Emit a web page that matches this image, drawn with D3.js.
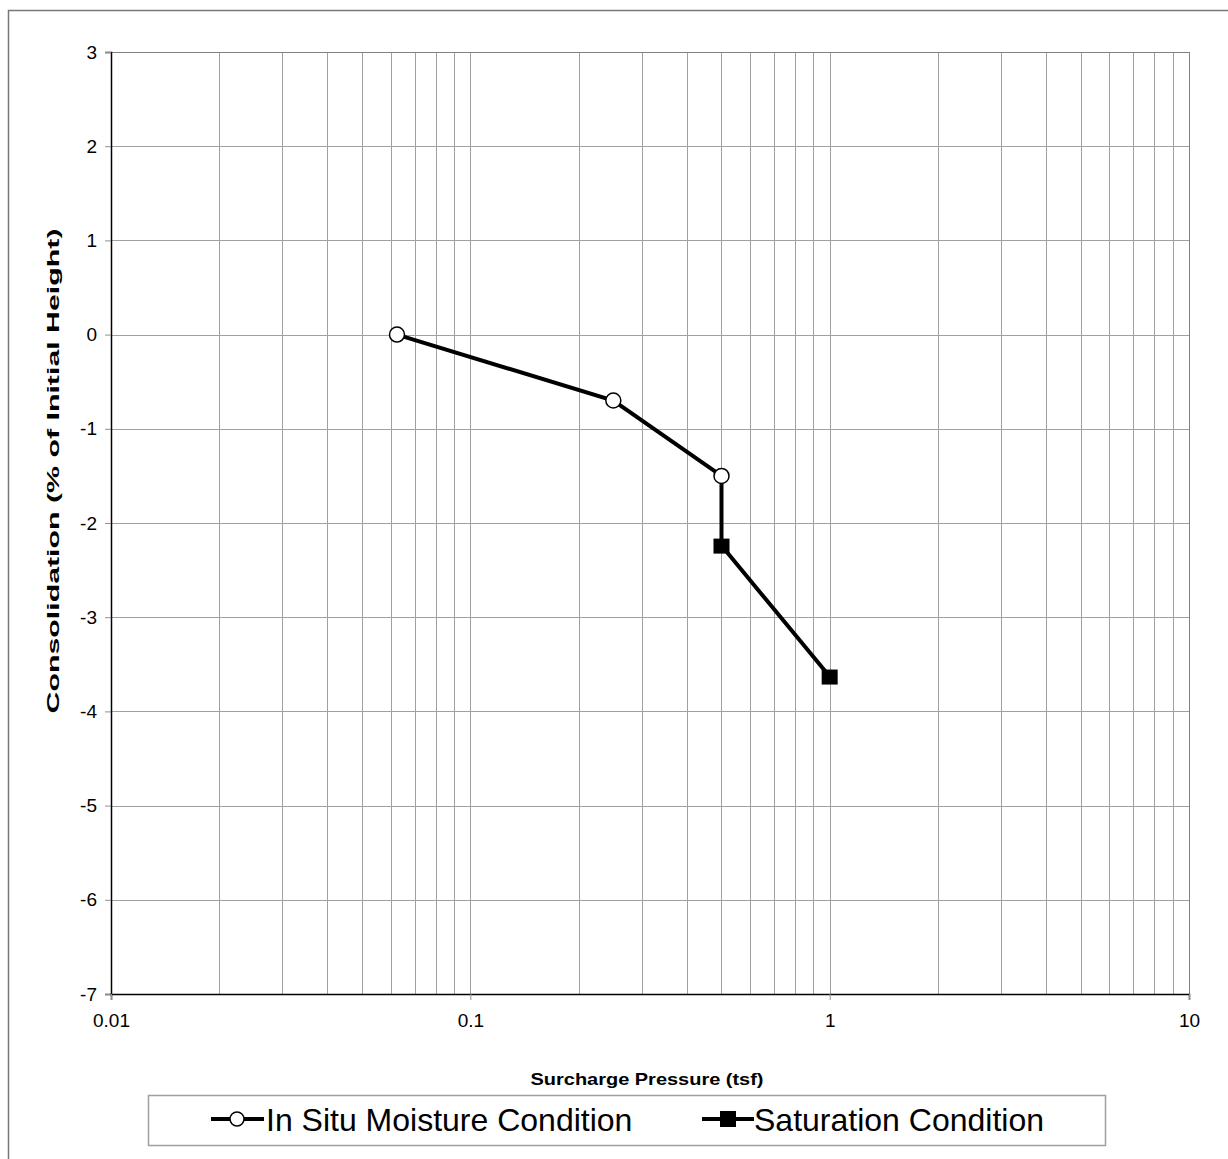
<!DOCTYPE html>
<html>
<head>
<meta charset="utf-8">
<script src="https://cdn.jsdelivr.net/npm/d3@7"></script>
<style>
  body { margin: 0; background: #fff; }
  text { font-family: "Liberation Sans", Arial, sans-serif; }
</style>
</head>
<body>
<div id="chart"></div>
<script>
// data
const inSituPressure = [0.0625, 0.25, 0.5];
const inSituConsol = [0, -0.7, -1.5];
const satPressure = [0.5, 1];
const satConsol = [-2.24, -3.63];
const yTicks = [3, 2, 1, 0, -1, -2, -3, -4, -5, -6, -7];
const xMajor = [0.01, 0.1, 1, 10];

const W = 1228, H = 1159;
const margin = { top: 52, right: 39, bottom: 165, left: 111 };
const w = W - margin.left - margin.right;
const h = H - margin.top - margin.bottom;
const FONT = '"Liberation Sans", Arial, sans-serif';

const svg = d3.select('#chart').append('svg')
  .attr('width', W).attr('height', H);

// outer chart border
svg.append('rect')
  .attr('x', 8.5).attr('y', 10.5)
  .attr('width', W).attr('height', H)
  .attr('fill', 'none').attr('stroke', '#777').attr('stroke-width', 1.5);

const x = d3.scaleLog().domain([0.01, 10]).range([0, w]);
const y = d3.scaleLinear().domain([-7, 3]).range([h, 0]);

const g = svg.append('g')
  .attr('transform', `translate(${margin.left},${margin.top})`);

// minor + major vertical grid
const xGrid = [];
for (let d = 0.01; d < 10; d *= 10) {
  for (let k = 1; k <= 10; k++) xGrid.push(+(d * k).toPrecision(3));
}
g.selectAll('.vgrid').data(xGrid).enter().append('line')
  .attr('class', 'vgrid')
  .attr('x1', d => Math.round(x(d)) + 0.5).attr('x2', d => Math.round(x(d)) + 0.5)
  .attr('y1', 0).attr('y2', h)
  .attr('stroke', '#a0a0a0').attr('stroke-width', 1);

g.selectAll('.hgrid').data(yTicks).enter().append('line')
  .attr('class', 'hgrid')
  .attr('x1', 0).attr('x2', w)
  .attr('y1', d => Math.round(y(d)) + 0.5).attr('y2', d => Math.round(y(d)) + 0.5)
  .attr('stroke', '#a0a0a0').attr('stroke-width', 1);

// plot frame: gray top/right
g.append('rect')
  .attr('x', 0.5).attr('y', 0.5).attr('width', w).attr('height', h)
  .attr('fill', 'none').attr('stroke', '#808080');

// axes
const yAxis = d3.axisLeft(y).tickValues(yTicks).tickSize(6).tickPadding(8)
  .tickFormat(d => String(d));
const ya = g.append('g').call(yAxis);
ya.attr('font-family', FONT);
ya.select('.domain').attr('stroke', '#000').attr('stroke-width', 1.5);
ya.selectAll('.tick line').attr('stroke', '#909090');
ya.selectAll('text').attr('fill', '#000').style('font-size', '19px');

const xAxis = d3.axisBottom(x).tickValues(xMajor).tickSize(6).tickPadding(14)
  .tickFormat(d => String(d));
const xa = g.append('g').attr('transform', `translate(0,${h})`).call(xAxis);
xa.attr('font-family', FONT);
xa.select('.domain').attr('stroke', '#000').attr('stroke-width', 1.5);
xa.selectAll('.tick line').attr('stroke', '#909090');
xa.selectAll('text').attr('fill', '#000').style('font-size', '19px');

// axis titles
svg.append('text')
  .attr('x', 647).attr('y', 1085)
  .attr('text-anchor', 'middle').attr('font-size', 17).attr('font-weight', 'bold')
  .attr('textLength', 233).attr('lengthAdjust', 'spacingAndGlyphs')
  .text('Surcharge Pressure (tsf)');
svg.append('text')
  .attr('transform', `translate(59,471) rotate(-90)`)
  .attr('text-anchor', 'middle').attr('font-size', 17).attr('font-weight', 'bold')
  .attr('textLength', 485).attr('lengthAdjust', 'spacingAndGlyphs')
  .text('Consolidation (% of Initial Height)');

const line = d3.line().x(d => x(d[0])).y(d => y(d[1]));
const inSitu = inSituPressure.map((p, i) => [p, inSituConsol[i]]);
const sat = satPressure.map((p, i) => [p, satConsol[i]]);

// connector from last in-situ point to saturated points
g.append('path')
  .datum([inSitu[inSitu.length - 1]].concat(sat))
  .attr('d', line).attr('fill', 'none').attr('stroke', '#000').attr('stroke-width', 4);
g.append('path')
  .datum(inSitu)
  .attr('d', line).attr('fill', 'none').attr('stroke', '#000').attr('stroke-width', 4);

g.selectAll('.sq').data(sat).enter().append('rect')
  .attr('x', d => x(d[0]) - 8).attr('y', d => y(d[1]) - 7)
  .attr('width', 16).attr('height', 15).attr('fill', '#000');
g.selectAll('.circ').data(inSitu).enter().append('circle')
  .attr('cx', d => x(d[0])).attr('cy', d => y(d[1])).attr('r', 7.5)
  .attr('fill', '#fff').attr('stroke', '#000').attr('stroke-width', 1.5);

// legend
const leg = svg.append('g');
leg.append('rect')
  .attr('x', 148.5).attr('y', 1095.5).attr('width', 957).attr('height', 50)
  .attr('fill', '#fff').attr('stroke', '#a0a0a0').attr('stroke-width', 1.5);

const l1 = leg.append('g').attr('transform', 'translate(211,1119)');
l1.append('line').attr('x1', 0).attr('x2', 53).attr('stroke', '#000').attr('stroke-width', 4);
l1.append('circle').attr('cx', 26).attr('r', 7).attr('fill', '#fff').attr('stroke', '#000').attr('stroke-width', 1.5);
l1.append('text').attr('x', 55).attr('y', 12).attr('font-size', 32).text('In Situ Moisture Condition');

const l2 = leg.append('g').attr('transform', 'translate(702,1119)');
l2.append('line').attr('x1', 0).attr('x2', 52).attr('stroke', '#000').attr('stroke-width', 4);
l2.append('rect').attr('x', 18).attr('y', -8).attr('width', 16).attr('height', 16).attr('fill', '#000');
l2.append('text').attr('x', 52).attr('y', 12).attr('font-size', 32).text('Saturation Condition');
</script>
</body>
</html>
